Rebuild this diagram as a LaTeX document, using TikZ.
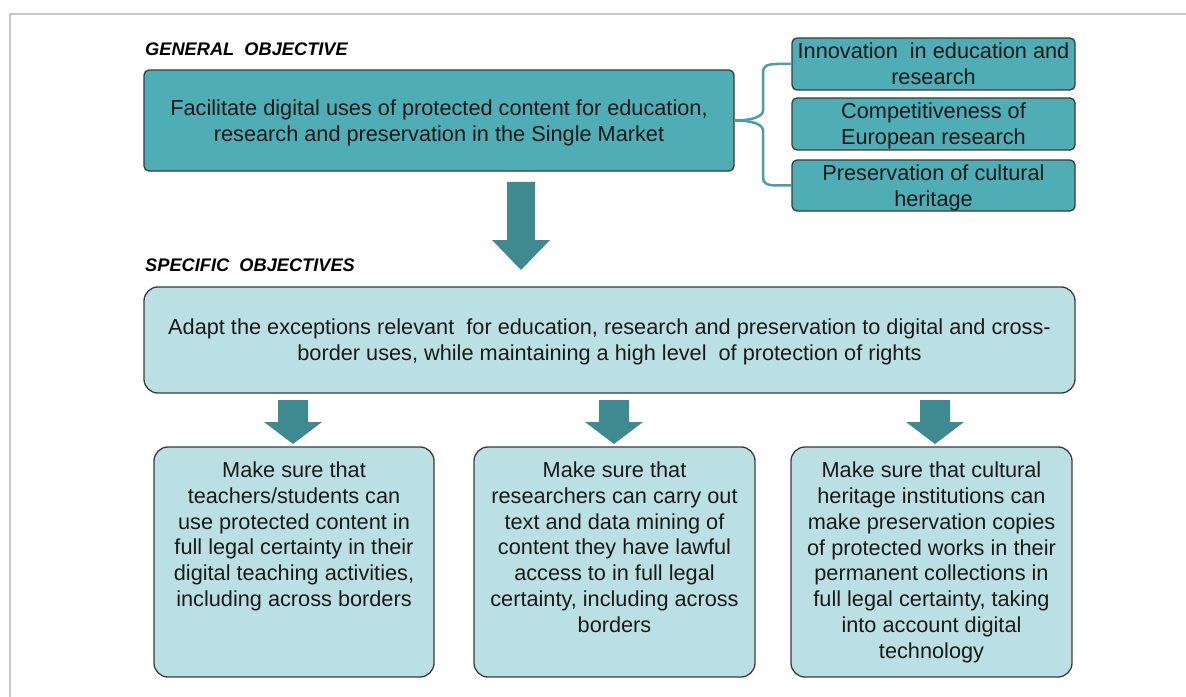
\documentclass[tikz,border=0pt]{standalone}
\usepackage{fontspec}
\setmainfont{Liberation Sans}
\usetikzlibrary{calc}
\definecolor{tealD}{HTML}{4FADB5}
\definecolor{tealL}{HTML}{BBE0E3}
\definecolor{arrowC}{HTML}{3E8A90}
\definecolor{braceC}{HTML}{4A9EA6}
\definecolor{edgeC}{HTML}{3A3A3A}
\definecolor{frameC}{HTML}{C8C8C8}
\newcommand\blkarrow[6]{% cx, top, headbase, tip, shaftw, headw
  \fill[blockarr] ({#1-#5/2},#2) -- ({#1+#5/2},#2) -- ({#1+#5/2},#3) -- ({#1+#6/2},#3)
    -- (#1,#4) -- ({#1-#6/2},#3) -- ({#1-#5/2},#3) -- cycle;}
\begin{document}
\begin{tikzpicture}[x=1bp,y=-1bp,
  txt/.style={font=\fontsize{21.8}{26}\selectfont, align=center, text=black!90, inner sep=0},
  darkbox/.style={draw=edgeC, line width=1.3bp, fill=tealD, rounded corners=5bp, inner sep=0, text depth=0pt},
  lightbox/.style={draw=edgeC, line width=1.3bp, fill=tealL, rounded corners=14bp, inner sep=0, text depth=0pt},
  headtxt/.style={font=\fontsize{18.3}{20}\selectfont\bfseries\itshape, anchor=base west, inner sep=0},
  blockarr/.style={fill=arrowC, draw=none},
  bracepath/.style={draw=braceC, line width=2.5bp}]
\useasboundingbox (0,0) rectangle (1186,697);
\draw[frameC, line width=1.5bp] (1186,14) -- (10,14) -- (10,697);

% headings
\node[headtxt] (h1) at (145,55.5) {GENERAL\ \ OBJECTIVE};
\node[headtxt] (h2) at (145,271) {SPECIFIC\ \ OBJECTIVES};

% general objective
\node[darkbox, txt, minimum width=590bp, minimum height=101bp] (g) at (439,120.5)
  {Facilitate digital uses of protected content for education,\\research and preservation in the Single Market};

% right boxes
\node[darkbox, txt, minimum width=283bp, minimum height=52bp] (r1) at (933.5,64)
  {Innovation\ \ in education and\\research};
\node[darkbox, txt, minimum width=283bp, minimum height=52bp] (r2) at (933.5,124)
  {Competitiveness of\\European research};
\node[darkbox, txt, minimum width=283bp, minimum height=51bp] (r3) at (933.5,185.5)
  {Preservation of cultural\\heritage};

% brace
\coordinate (sp) at (763,120.5);
\draw[bracepath] (g.east) .. controls +(18,0) and +(0,6) .. ($(sp)+(0,-10)$)
  -- ($(sp|-r1.west)+(0,8)$) .. controls +(0,-6) and +(-10,0) .. ($(r1.west)+(-14,0)$) -- (r1.west);
\draw[bracepath] (g.east) .. controls +(18,0) and +(0,-6) .. ($(sp)+(0,10)$)
  -- ($(sp|-r3.west)+(0,-8)$) .. controls +(0,6) and +(-10,0) .. ($(r3.west)+(-14,0)$) -- (r3.west);

% big arrow
\blkarrow{521}{182}{240}{270}{28}{58}

% specific objective
\node[lightbox, txt, minimum width=931bp, minimum height=106bp] (s) at (609.5,340)
  {Adapt the exceptions relevant\ \ for education, research and preservation to digital and cross-\\border uses, while maintaining a high level\ \ of protection of rights};

% small arrows
\blkarrow{293}{400}{422}{444}{30}{58}
\blkarrow{614}{400}{422}{444}{30}{58}
\blkarrow{935}{400}{422}{444}{30}{58}

% bottom boxes
\node[lightbox, minimum width=280bp, minimum height=230bp] (b1) at (294,562) {};
\node[lightbox, minimum width=281bp, minimum height=230bp] (b2) at (614.5,562) {};
\node[lightbox, minimum width=281bp, minimum height=230bp] (b3) at (931.5,562) {};

\node[txt, anchor=north] (t1) at ($(b1.north)+(0,15)$)
  {Make sure that\\teachers/students can\\use protected content in\\full legal certainty in their\\digital teaching activities,\\including across borders};
\node[txt, anchor=north] (t2) at ($(b2.north)+(0,15)$)
  {Make sure that\\researchers can carry out\\text and data mining of\\content they have lawful\\access to in full legal\\certainty, including across\\borders};
\node[txt, anchor=north] (t3) at ($(b3.north)+(0,15)$)
  {Make sure that cultural\\heritage institutions can\\make preservation copies\\of protected works in their\\permanent collections in\\full legal certainty, taking\\into account digital\\technology};
\end{tikzpicture}
\end{document}
